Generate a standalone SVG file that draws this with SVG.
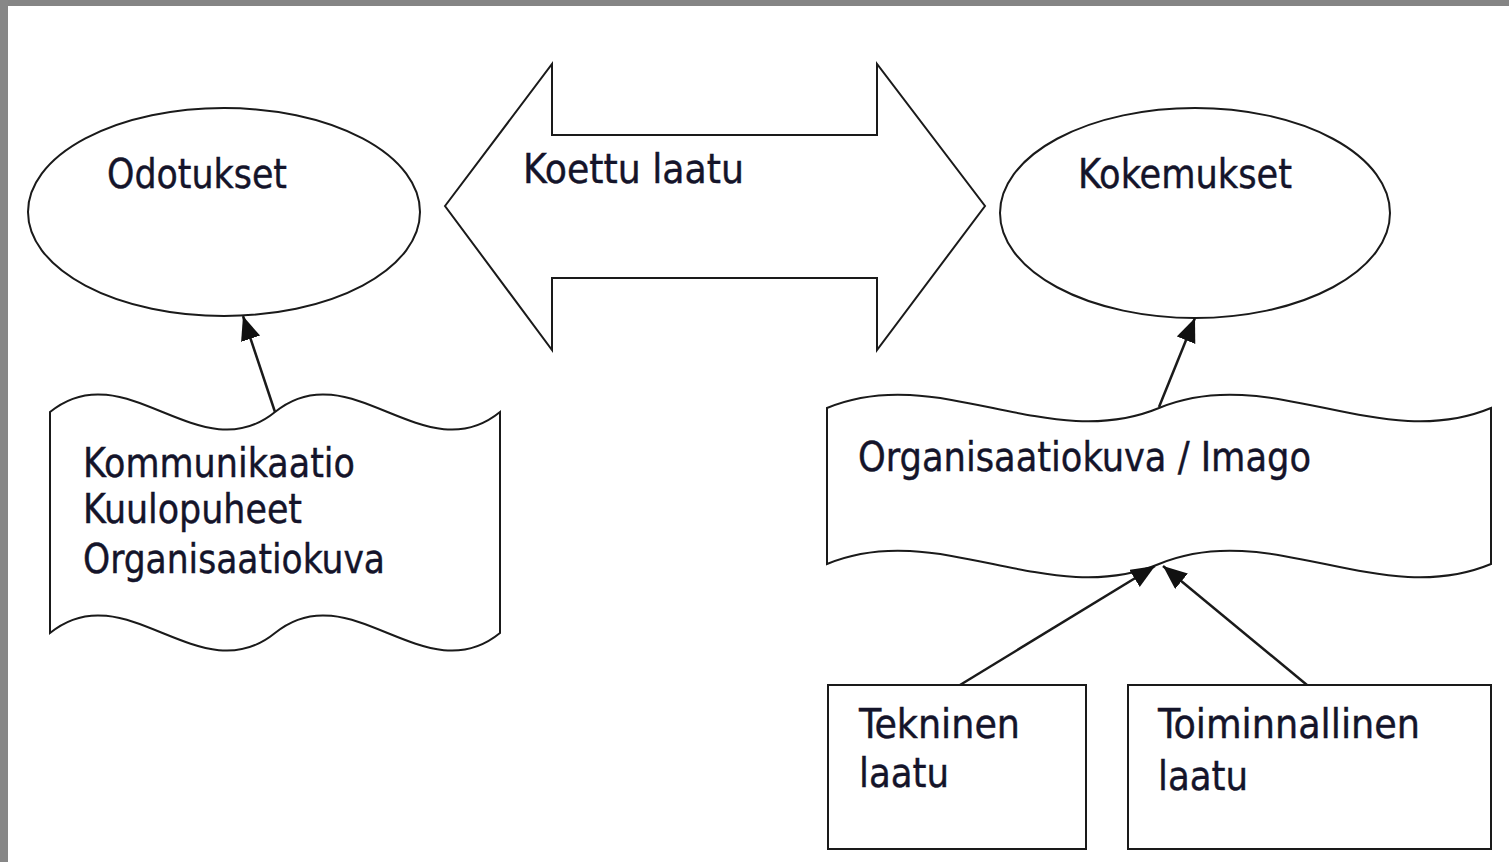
<svg xmlns="http://www.w3.org/2000/svg" width="1509" height="862" viewBox="0 0 1509 862">
<defs>
<style>
.shape{fill:#fff;stroke:#1a1a1a;stroke-width:2}
.conn{fill:none;stroke:#1a1a1a;stroke-width:2.5}
.lbl{font-family:"DejaVu Sans Condensed","DejaVu Sans",sans-serif;font-size:41px;fill:#14142a;stroke:#14142a;stroke-width:0.4}
</style>
<marker id="ah" markerUnits="userSpaceOnUse" markerWidth="26" markerHeight="22" refX="24" refY="10" orient="auto">
<path d="M0,0 L24,10 L0,20 Z" fill="#111"/>
</marker>
</defs>
<rect x="0" y="0" width="1509" height="862" fill="#fff"/>
<rect x="0" y="0" width="1509" height="6" fill="#858585"/>
<rect x="0" y="0" width="8" height="862" fill="#878787"/>

<g id="koettu-laatu">
<polygon class="shape" points="445,206 552,64 552,135 877,135 877,64 985,206 877,350 877,278 552,278 552,350"/>
<text class="lbl" x="523" y="183" textLength="221" lengthAdjust="spacingAndGlyphs">Koettu laatu</text>
</g>

<g id="odotukset">
<ellipse class="shape" cx="224" cy="212" rx="196" ry="104"/>
<text class="lbl" x="107" y="188" textLength="180" lengthAdjust="spacingAndGlyphs">Odotukset</text>
</g>

<g id="kokemukset">
<ellipse class="shape" cx="1195" cy="213" rx="195" ry="105"/>
<text class="lbl" x="1078" y="188" textLength="214" lengthAdjust="spacingAndGlyphs">Kokemukset</text>
</g>

<g id="lahteet">
<path class="shape" d="M50,412 C125,351 200,473 275,412 C350,351 425,473 500,412 L500,633 C425,694 350,572 275,633 C200,694 125,572 50,633 Z"/>
<text class="lbl" x="83" y="477" textLength="272" lengthAdjust="spacingAndGlyphs">Kommunikaatio</text>
<text class="lbl" x="83" y="523" textLength="219" lengthAdjust="spacingAndGlyphs">Kuulopuheet</text>
<text class="lbl" x="83" y="573" textLength="302" lengthAdjust="spacingAndGlyphs">Organisaatiokuva</text>
</g>

<g id="imago">
<path class="shape" d="M827,408 C937.7,362 1048.3,454 1159,408 C1269.7,362 1380.3,454 1491,408 L1491,564 C1380.3,610 1269.7,518 1159,564 C1048.3,610 937.7,518 827,564 Z"/>
<text class="lbl" x="858" y="471" textLength="453" lengthAdjust="spacingAndGlyphs">Organisaatiokuva / Imago</text>
</g>

<g id="tekninen">
<rect class="shape" x="828" y="685" width="258" height="164"/>
<text class="lbl" x="859" y="738" textLength="161" lengthAdjust="spacingAndGlyphs">Tekninen</text>
<text class="lbl" x="859" y="787" textLength="90" lengthAdjust="spacingAndGlyphs">laatu</text>
</g>

<g id="toiminnallinen">
<rect class="shape" x="1128" y="685" width="363" height="164"/>
<text class="lbl" x="1158" y="738" textLength="262" lengthAdjust="spacingAndGlyphs">Toiminnallinen</text>
<text class="lbl" x="1158" y="790" textLength="90" lengthAdjust="spacingAndGlyphs">laatu</text>
</g>

<g id="connectors">
<line class="conn" x1="275" y1="412" x2="243" y2="316" marker-end="url(#ah)"/>
<line class="conn" x1="1159" y1="407" x2="1195" y2="318" marker-end="url(#ah)"/>
<line class="conn" x1="960" y1="685" x2="1155" y2="566" marker-end="url(#ah)"/>
<line class="conn" x1="1307" y1="685" x2="1163" y2="566" marker-end="url(#ah)"/>
</g>
</svg>
